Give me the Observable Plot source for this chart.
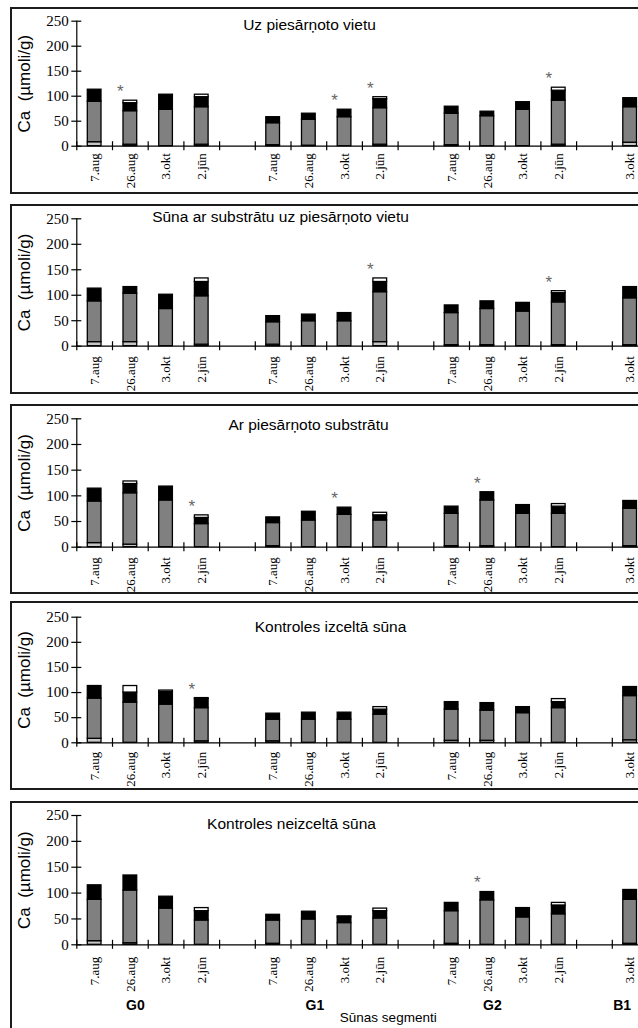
<!DOCTYPE html>
<html>
<head>
<meta charset="utf-8">
<script src="https://cdn.jsdelivr.net/npm/d3@7"></script>
<script src="https://cdn.jsdelivr.net/npm/@observablehq/plot@0.6"></script>
<style>
  html, body { margin: 0; padding: 0; background: #fff; }
  body { width: 638px; height: 1028px; overflow: hidden; position: relative; }
  .panel { position: absolute; left: 10px; width: 720px; border: 2px solid #1c1c1c;
           box-sizing: border-box; background: #fff; overflow: hidden; }
  .panel svg { position: absolute; left: 0; top: 0; max-width: none !important; }
  .panel g[aria-label="x-axis tick label"] { font-size: 13px; }
  .panel g[aria-label="y-axis tick label"] { font-size: 15px; }
</style>
</head>
<body>
<script>
// ---- data ----
const dates = ["7.aug", "26.aug", "3.okt", "2.jūn"];
const segments = ["G0", "G1", "G2", "B1"];
const segmentDates = [dates, dates, dates, ["3.okt"]];
const panelTitles = [
  "Uz piesārņoto vietu",
  "Sūna ar substrātu uz piesārņoto vietu",
  "Ar piesārņoto substrātu",
  "Kontroles izceltā sūna",
  "Kontroles neizceltā sūna"
];
const yTicks = [0, 50, 100, 150, 200, 250];
const yLabel = "Ca\u00a0 (µmoli/g)";
const xLabel = "Sūnas segmenti";

// Ca fractions per bar, bottom to top (G0 x4, G1 x4, G2 x4, B1 3.okt)
const caLight = [
  [8, 3, 0, 3, 2, 1, 0, 3, 2, 0, 0, 3, 7],
  [8, 8, 0, 3, 3, 0, 0, 8, 2, 2, 0, 2, 2],
  [8, 5, 0, 0, 2, 0, 0, 0, 2, 2, 0, 0, 2],
  [8, 0, 0, 3, 3, 0, 0, 0, 4, 4, 0, 0, 5],
  [7, 3, 0, 0, 2, 0, 0, 0, 2, 0, 0, 0, 2]
];
const caGray = [
  [81, 67, 73, 75, 44, 52, 58, 73, 63, 60, 73, 88, 71],
  [80, 95, 73, 95, 44, 49, 49, 98, 63, 71, 68, 84, 92],
  [81, 100, 91, 45, 45, 52, 63, 52, 63, 89, 65, 65, 73],
  [80, 80, 76, 66, 43, 46, 46, 56, 62, 60, 59, 69, 88],
  [80, 102, 70, 47, 45, 49, 42, 51, 63, 86, 53, 59, 85]
];
const caBlack = [
  [24, 16, 30, 20, 12, 12, 15, 18, 14, 9, 15, 20, 18],
  [25, 13, 28, 28, 12, 13, 16, 20, 15, 15, 17, 18, 22],
  [25, 18, 27, 12, 11, 17, 14, 10, 14, 16, 17, 14, 15],
  [25, 20, 25, 18, 12, 14, 14, 10, 15, 15, 12, 12, 18],
  [28, 29, 23, 18, 11, 15, 11, 14, 16, 16, 16, 17, 19]
];
const caWhite = [
  [0, 5, 0, 5, 0, 0, 0, 4, 0, 0, 0, 6, 0],
  [0, 0, 0, 7, 0, 0, 0, 7, 0, 0, 0, 4, 0],
  [0, 5, 0, 5, 0, 0, 0, 5, 0, 0, 0, 5, 0],
  [0, 13, 3, 2, 0, 0, 0, 5, 0, 0, 0, 6, 0],
  [0, 0, 0, 6, 0, 0, 2, 5, 0, 0, 2, 5, 0]
];
// bars marked with an asterisk
const starred = [
  ["G0 26.aug", "G1 3.okt", "G1 2.jūn", "G2 2.jūn"],
  ["G1 2.jūn", "G2 2.jūn"],
  ["G0 2.jūn", "G1 3.okt", "G2 26.aug"],
  ["G0 2.jūn"],
  ["G2 26.aug"]
];

// ---- styles & layout ----
const sans = "'Liberation Sans', Arial, sans-serif";
const serif = "'Liberation Serif', 'Times New Roman', serif";
const fractions = [
  {name: "light", values: caLight, fill: "#c6c6c6"},
  {name: "gray", values: caGray, fill: "#808080"},
  {name: "black", values: caBlack, fill: "#000000"},
  {name: "white", values: caWhite, fill: "#ffffff"}
];
// panel boxes and plot frames, in page pixels
const layout = [
  {top: 7,   height: 187, y250: 20.7,  y0: 145.7, titleX: 309, titleY: 29.3,  labelGap: 7},
  {top: 204, height: 190, y250: 218.3, y0: 345.7, titleX: 280, titleY: 221.7, labelGap: 10},
  {top: 404, height: 190, y250: 418.3, y0: 546.7, titleX: 308, titleY: 429.5, labelGap: 10},
  {top: 601, height: 189, y250: 616.7, y0: 742.3, titleX: 330, titleY: 631.7, labelGap: 9},
  {top: 801, height: 240, y250: 815,   y0: 944.3, titleX: 291, titleY: 828,   labelGap: 12}
];
const frameLeft = 10, border = 2, svgWidth = 716;
const axisLeft = 76.3, slotStep = 35.7;
const groupShift = {G0: 5, G1: 6, G2: 5, B1: -8};

// ---- derived keys ----
const barKeys = segments.flatMap((s, i) => segmentDates[i].map(d => `${s} ${d}`));
const slots = segments.flatMap((s, i) => {
  const keys = segmentDates[i].map(d => `${s} ${d}`);
  return i < segments.length - 1 ? [...keys, `gap ${s}`] : keys;
});
const slotLabel = new Map(barKeys.map(k => [k, k.split(" ")[1]]));

layout.forEach((L, p) => {
  const rows = [];
  const totals = new Map();
  barKeys.forEach((key, i) => {
    let total = 0;
    fractions.forEach(f => {
      const v = f.values[p][i];
      total += v;
      if (v > 0) rows.push({slot: key, fraction: f.name, value: v});
    });
    totals.set(key, total);
  });
  const stars = starred[p].map(k => ({slot: k, total: totals.get(k)}));

  const svgTop = L.top + border;
  const svgH = L.height - 2 * border;
  const mL = axisLeft - (frameLeft + border);
  const mR = svgWidth - mL - slotStep * slots.length;
  const mT = L.y250 - svgTop;
  const mB = svgH - (L.y0 - svgTop);
  const bw = slotStep;

  const marks = [
    Plot.barY(rows, {
      x: "slot", y: "value", fill: "fraction",
      stroke: "#000", strokeWidth: 1.3, insetLeft: 11, insetRight: 11
    }),
    Plot.ruleY([0], {stroke: "#000", strokeWidth: 1.2}),
    Plot.ruleX([slots[0]], {y1: 0, y2: 250, dx: -bw / 2, stroke: "#000", strokeWidth: 1.2}),
    Plot.ruleX(slots, {y1: 0, y2: 0, insetTop: -4.5, insetBottom: -4.5, dx: -bw / 2, stroke: "#000", strokeWidth: 1.2}),
    Plot.tickY(yTicks, {y: d => d, x: () => slots[0], insetLeft: -5, insetRight: bw - 5, stroke: "#000", strokeWidth: 1.2}),
    Plot.axisY({ticks: yTicks, tickSize: 0, tickPadding: 8, fontSize: 15, label: null}),
    Plot.axisX({
      tickSize: 0, tickRotate: -90, tickPadding: L.labelGap, fontSize: 13, label: null,
      tickFormat: s => slotLabel.get(s) ?? ""
    }),
    Plot.text(stars, {
      x: "slot", y: "total", text: () => "*", dx: -10, dy: -9,
      fill: "#666", fontSize: 17, fontFamily: sans
    }),
    Plot.text([panelTitles[p]], {
      text: d => d, frameAnchor: "top-left",
      dx: L.titleX - axisLeft, dy: L.titleY - L.y250,
      textAnchor: "middle", lineAnchor: "bottom",
      fontFamily: sans, fontSize: 15.5, fill: "#000"
    }),
    Plot.text([yLabel], {
      text: d => d, frameAnchor: "left", rotate: -90, dx: 24 - axisLeft,
      textAnchor: "middle", lineAnchor: "middle",
      fontFamily: sans, fontSize: 17, fill: "#000"
    })
  ];

  if (p === layout.length - 1) {
    segments.forEach((s, i) => {
      const d = segmentDates[i];
      const anchor = `${s} ${d[Math.min(1, d.length - 1)]}`;
      marks.push(Plot.text([s], {
        x: () => anchor, text: d => d, frameAnchor: "bottom",
        dx: groupShift[s], dy: 61, lineAnchor: "middle",
        fontFamily: sans, fontWeight: "bold", fontSize: 14, fill: "#000"
      }));
    });
    marks.push(Plot.text([xLabel], {
      x: () => "G1 2.jūn", text: d => d, frameAnchor: "bottom",
      dx: 8, dy: 72.6, lineAnchor: "middle",
      fontFamily: sans, fontSize: 13.5, fill: "#000"
    }));
  }

  const chart = Plot.plot({
    width: svgWidth, height: svgH,
    marginLeft: mL, marginRight: mR, marginTop: mT, marginBottom: mB,
    x: {type: "band", domain: slots, padding: 0, round: false},
    y: {domain: [0, 250]},
    color: {domain: fractions.map(f => f.name), range: fractions.map(f => f.fill)},
    style: {fontFamily: serif, fontSize: "13px", color: "#000", background: "transparent", overflow: "visible"},
    marks
  });

  const box = document.createElement("div");
  box.className = "panel";
  box.style.top = L.top + "px";
  box.style.height = L.height + "px";
  box.appendChild(chart);
  document.body.appendChild(box);
});
</script>
</body>
</html>
